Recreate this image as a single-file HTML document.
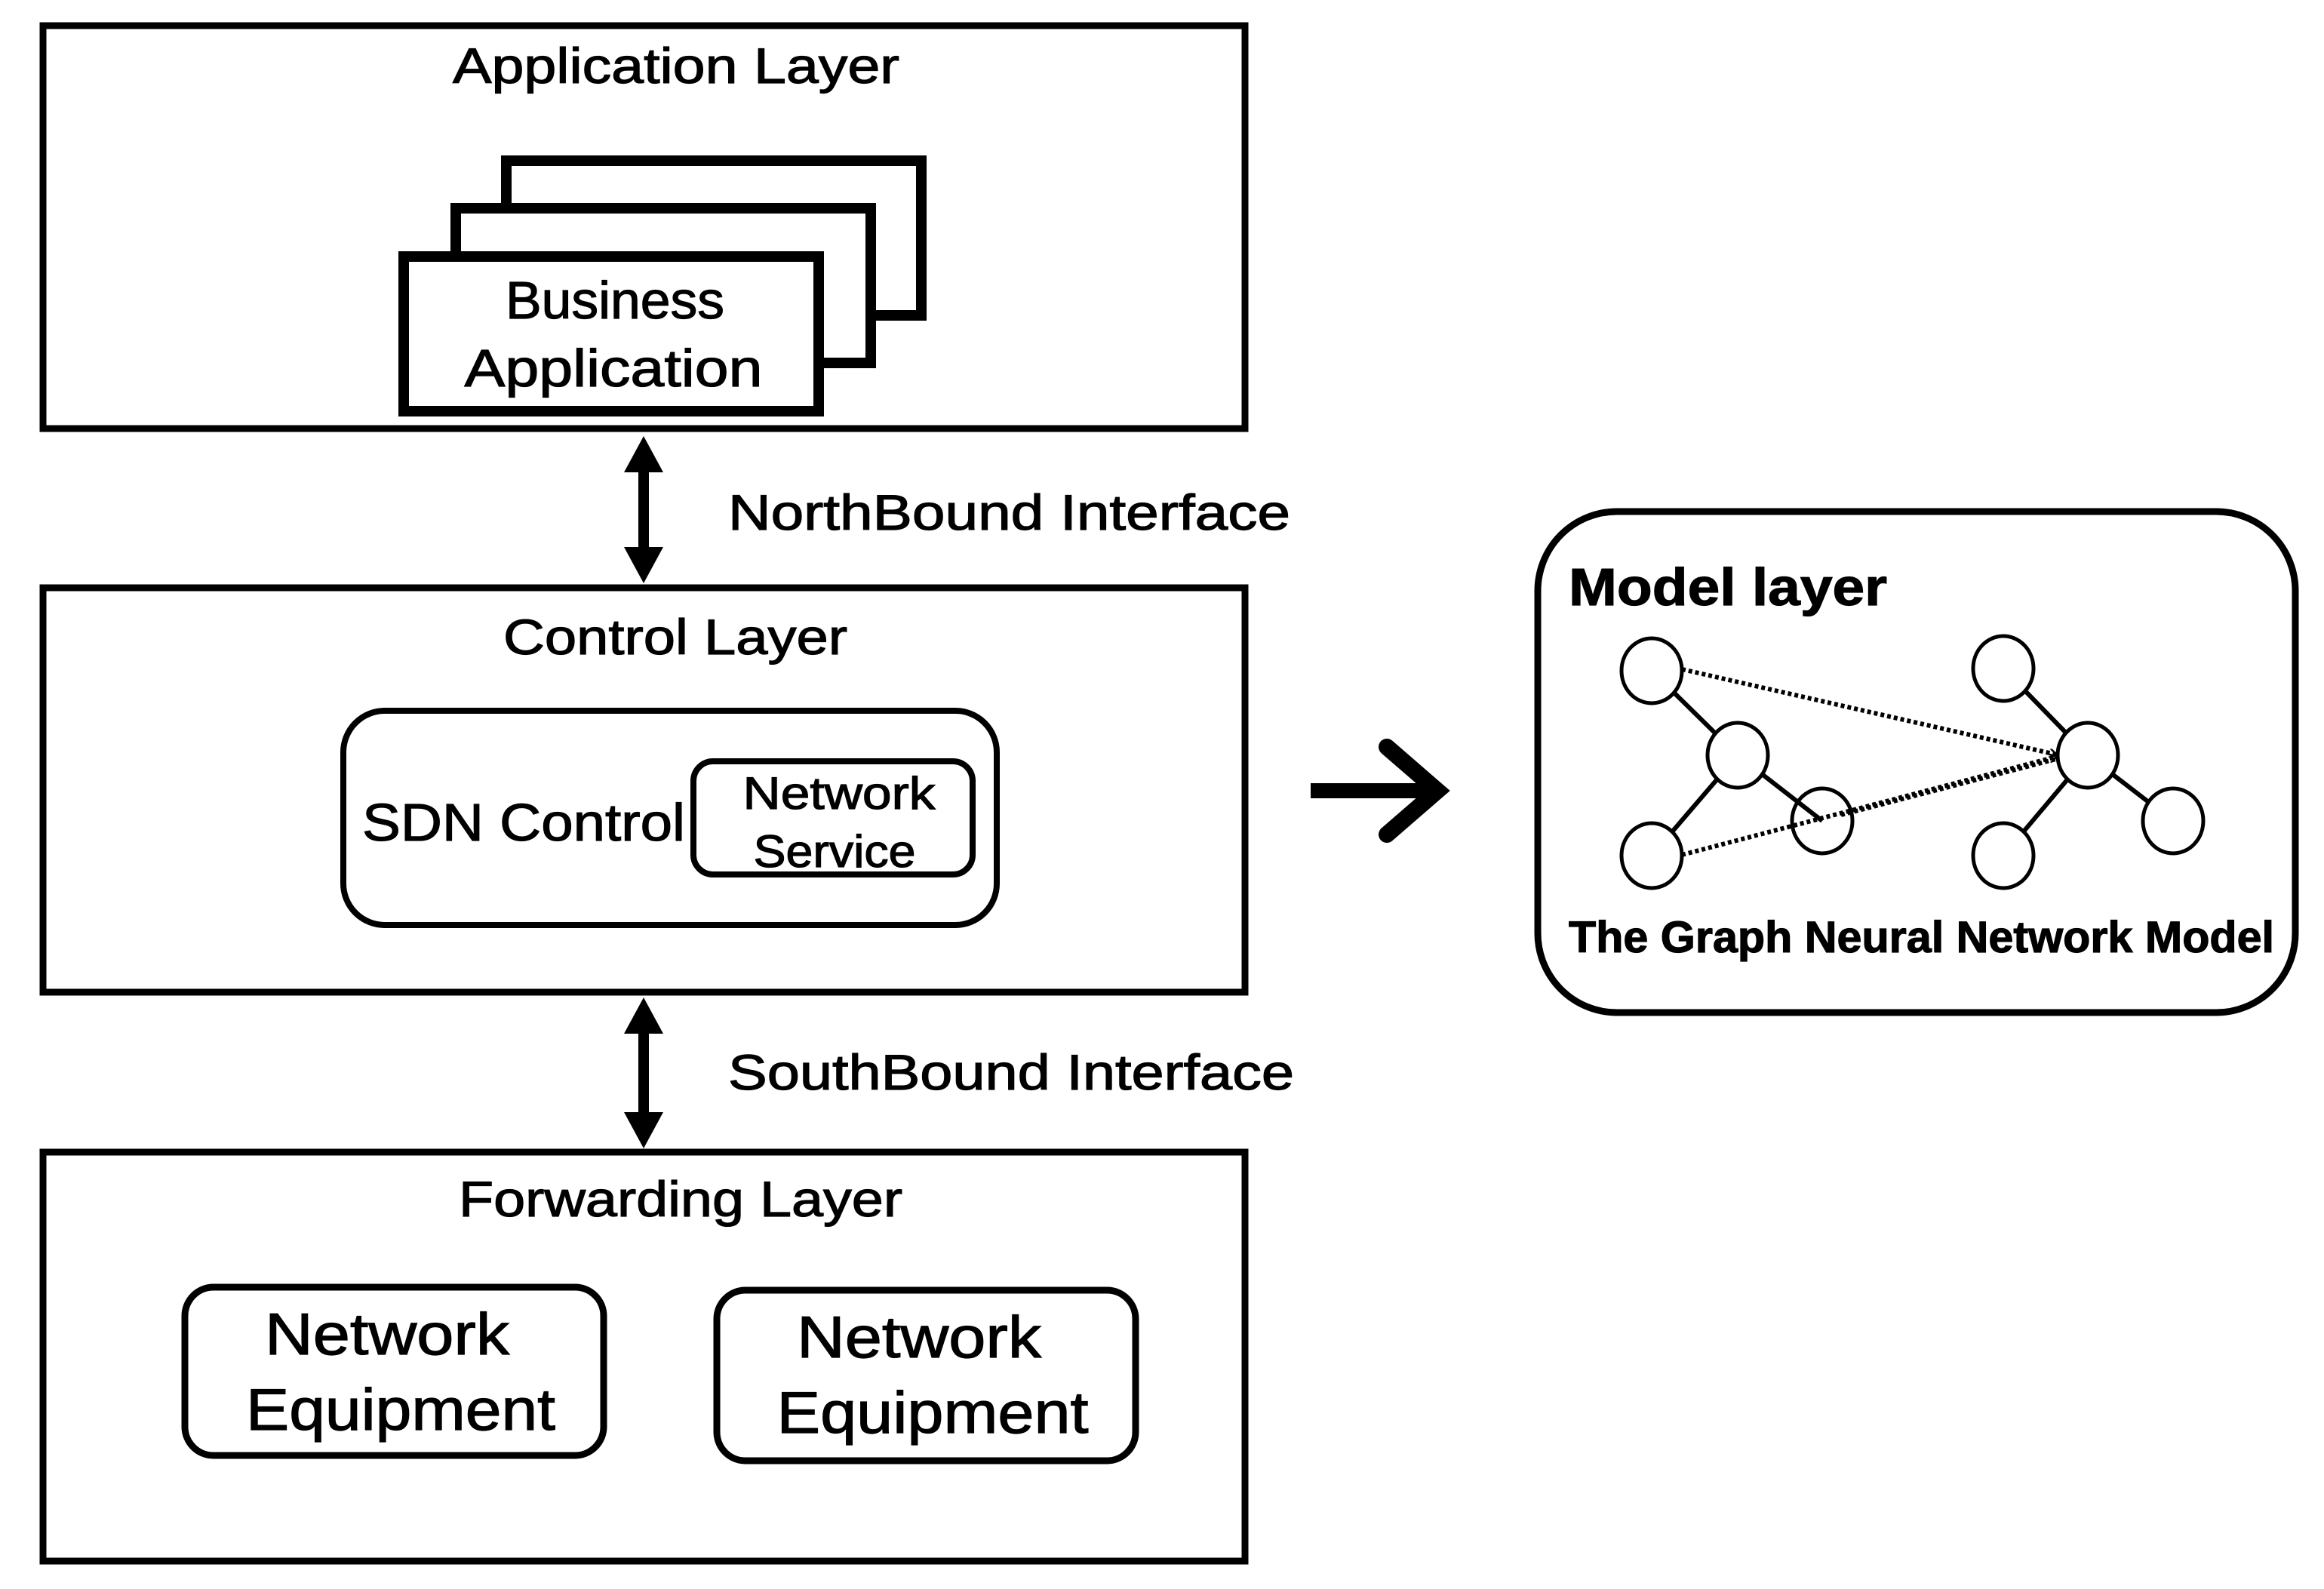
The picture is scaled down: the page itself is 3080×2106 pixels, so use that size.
<!DOCTYPE html>
<html><head><meta charset="utf-8"><style>
html,body{margin:0;padding:0;background:#fff;}
svg{display:block;}
text{font-family:"Liberation Sans",sans-serif;fill:#000;stroke:#000;stroke-width:1.2;}
</style></head><body>
<svg width="3080" height="2106" viewBox="0 0 3080 2106" xmlns="http://www.w3.org/2000/svg">
<defs>
<marker id="ah" markerWidth="12" markerHeight="12" refX="9" refY="6" orient="auto" markerUnits="userSpaceOnUse" viewBox="0 0 12 12">
<path d="M0,0 L10,6 L0,12" fill="none" stroke="#000" stroke-width="2.5"/>
</marker>
</defs>
<!-- Application layer -->
<rect x="57" y="34" width="1593" height="534" fill="none" stroke="#000" stroke-width="9"/>
<text x="896" y="110" font-size="66" text-anchor="middle" textLength="592" lengthAdjust="spacingAndGlyphs">Application Layer</text>
<rect x="671" y="213" width="550" height="205" fill="#fff" stroke="#000" stroke-width="14"/>
<rect x="604" y="276" width="550" height="205" fill="#fff" stroke="#000" stroke-width="14"/>
<rect x="535" y="340" width="550" height="205" fill="#fff" stroke="#000" stroke-width="14"/>
<text x="815" y="422" font-size="70" text-anchor="middle" textLength="290" lengthAdjust="spacingAndGlyphs">Business</text>
<text x="813" y="512" font-size="70" text-anchor="middle" textLength="395" lengthAdjust="spacingAndGlyphs">Application</text>
<!-- Northbound -->
<line x1="853" y1="615" x2="853" y2="736" stroke="#000" stroke-width="14"/>
<polygon points="853,578 827,626 879,626" fill="#000"/>
<polygon points="853,773 827,725 879,725" fill="#000"/>
<text x="965" y="702" font-size="66" textLength="745" lengthAdjust="spacingAndGlyphs">NorthBound Interface</text>
<!-- Control layer -->
<rect x="57" y="779" width="1593" height="536" fill="none" stroke="#000" stroke-width="9"/>
<text x="895" y="867" font-size="66" text-anchor="middle" textLength="456" lengthAdjust="spacingAndGlyphs">Control Layer</text>
<rect x="455" y="942" width="866" height="284" rx="55" fill="none" stroke="#000" stroke-width="8"/>
<rect x="919" y="1009" width="370" height="150" rx="26" fill="none" stroke="#000" stroke-width="8"/>
<text x="480" y="1114" font-size="70" textLength="428" lengthAdjust="spacingAndGlyphs">SDN Control</text>
<text x="1112" y="1072" font-size="60" text-anchor="middle" textLength="255" lengthAdjust="spacingAndGlyphs">Network</text>
<text x="1106" y="1149" font-size="60" text-anchor="middle" textLength="215" lengthAdjust="spacingAndGlyphs">Service</text>
<!-- Southbound -->
<line x1="853" y1="1360" x2="853" y2="1485" stroke="#000" stroke-width="14"/>
<polygon points="853,1322 827,1370 879,1370" fill="#000"/>
<polygon points="853,1522 827,1474 879,1474" fill="#000"/>
<text x="965" y="1444" font-size="66" textLength="750" lengthAdjust="spacingAndGlyphs">SouthBound Interface</text>
<!-- Forwarding layer -->
<rect x="57" y="1527" width="1593" height="542" fill="none" stroke="#000" stroke-width="9"/>
<text x="902" y="1612" font-size="66" text-anchor="middle" textLength="588" lengthAdjust="spacingAndGlyphs">Forwarding Layer</text>
<rect x="245" y="1706" width="555" height="223" rx="38" fill="none" stroke="#000" stroke-width="9"/>
<rect x="950" y="1710" width="555" height="226" rx="38" fill="none" stroke="#000" stroke-width="9"/>
<text x="513" y="1795" font-size="78" text-anchor="middle" textLength="324" lengthAdjust="spacingAndGlyphs">Network</text>
<text x="531" y="1895" font-size="78" text-anchor="middle" textLength="410" lengthAdjust="spacingAndGlyphs">Equipment</text>
<text x="1218" y="1799" font-size="78" text-anchor="middle" textLength="324" lengthAdjust="spacingAndGlyphs">Network</text>
<text x="1236" y="1899" font-size="78" text-anchor="middle" textLength="413" lengthAdjust="spacingAndGlyphs">Equipment</text>
<!-- Right arrow -->
<line x1="1737" y1="1048" x2="1890" y2="1048" stroke="#000" stroke-width="20"/>
<polyline points="1838,990 1905,1048 1838,1106" fill="none" stroke="#000" stroke-width="22" stroke-linecap="round" stroke-linejoin="miter"/>
<!-- Model layer -->
<rect x="2038" y="678" width="1004" height="664" rx="105" fill="none" stroke="#000" stroke-width="9"/>
<text x="2079" y="802" font-size="70" font-weight="bold" textLength="422" lengthAdjust="spacingAndGlyphs">Model layer</text>
<g stroke="#000" stroke-width="6" fill="none">
<line x1="2189" y1="889" x2="2303" y2="1001"/>
<line x1="2303" y1="1001" x2="2415" y2="1088"/>
<line x1="2303" y1="1001" x2="2189" y2="1134"/>
<line x1="2655" y1="886" x2="2767" y2="1001"/>
<line x1="2767" y1="1001" x2="2880" y2="1088"/>
<line x1="2767" y1="1001" x2="2655" y2="1134"/>
</g>
<g fill="#fff" stroke="#000" stroke-width="5">
<ellipse cx="2189" cy="889" rx="40" ry="43"/>
<ellipse cx="2303" cy="1001" rx="40" ry="43"/>
<ellipse cx="2189" cy="1134" rx="40" ry="43"/>
<ellipse cx="2655" cy="886" rx="40" ry="43"/>
<ellipse cx="2767" cy="1001" rx="40" ry="43"/>
<ellipse cx="2880" cy="1088" rx="40" ry="43"/>
<ellipse cx="2655" cy="1134" rx="40" ry="43"/>
</g>
<ellipse cx="2415" cy="1088" rx="40" ry="43" fill="none" stroke="#000" stroke-width="5"/>
<g stroke="#000" stroke-width="6" stroke-dasharray="5,4" fill="none">
<line x1="2229" y1="887" x2="2725" y2="1000" marker-end="url(#ah)"/>
<line x1="2229" y1="1133" x2="2725" y2="1003" marker-end="url(#ah)"/>
<line x1="2440" y1="1080" x2="2725" y2="1006"/>
</g>
<text x="2079" y="1262" font-size="58" font-weight="bold" textLength="935" lengthAdjust="spacingAndGlyphs">The Graph Neural Network Model</text>
</svg>
</body></html>
